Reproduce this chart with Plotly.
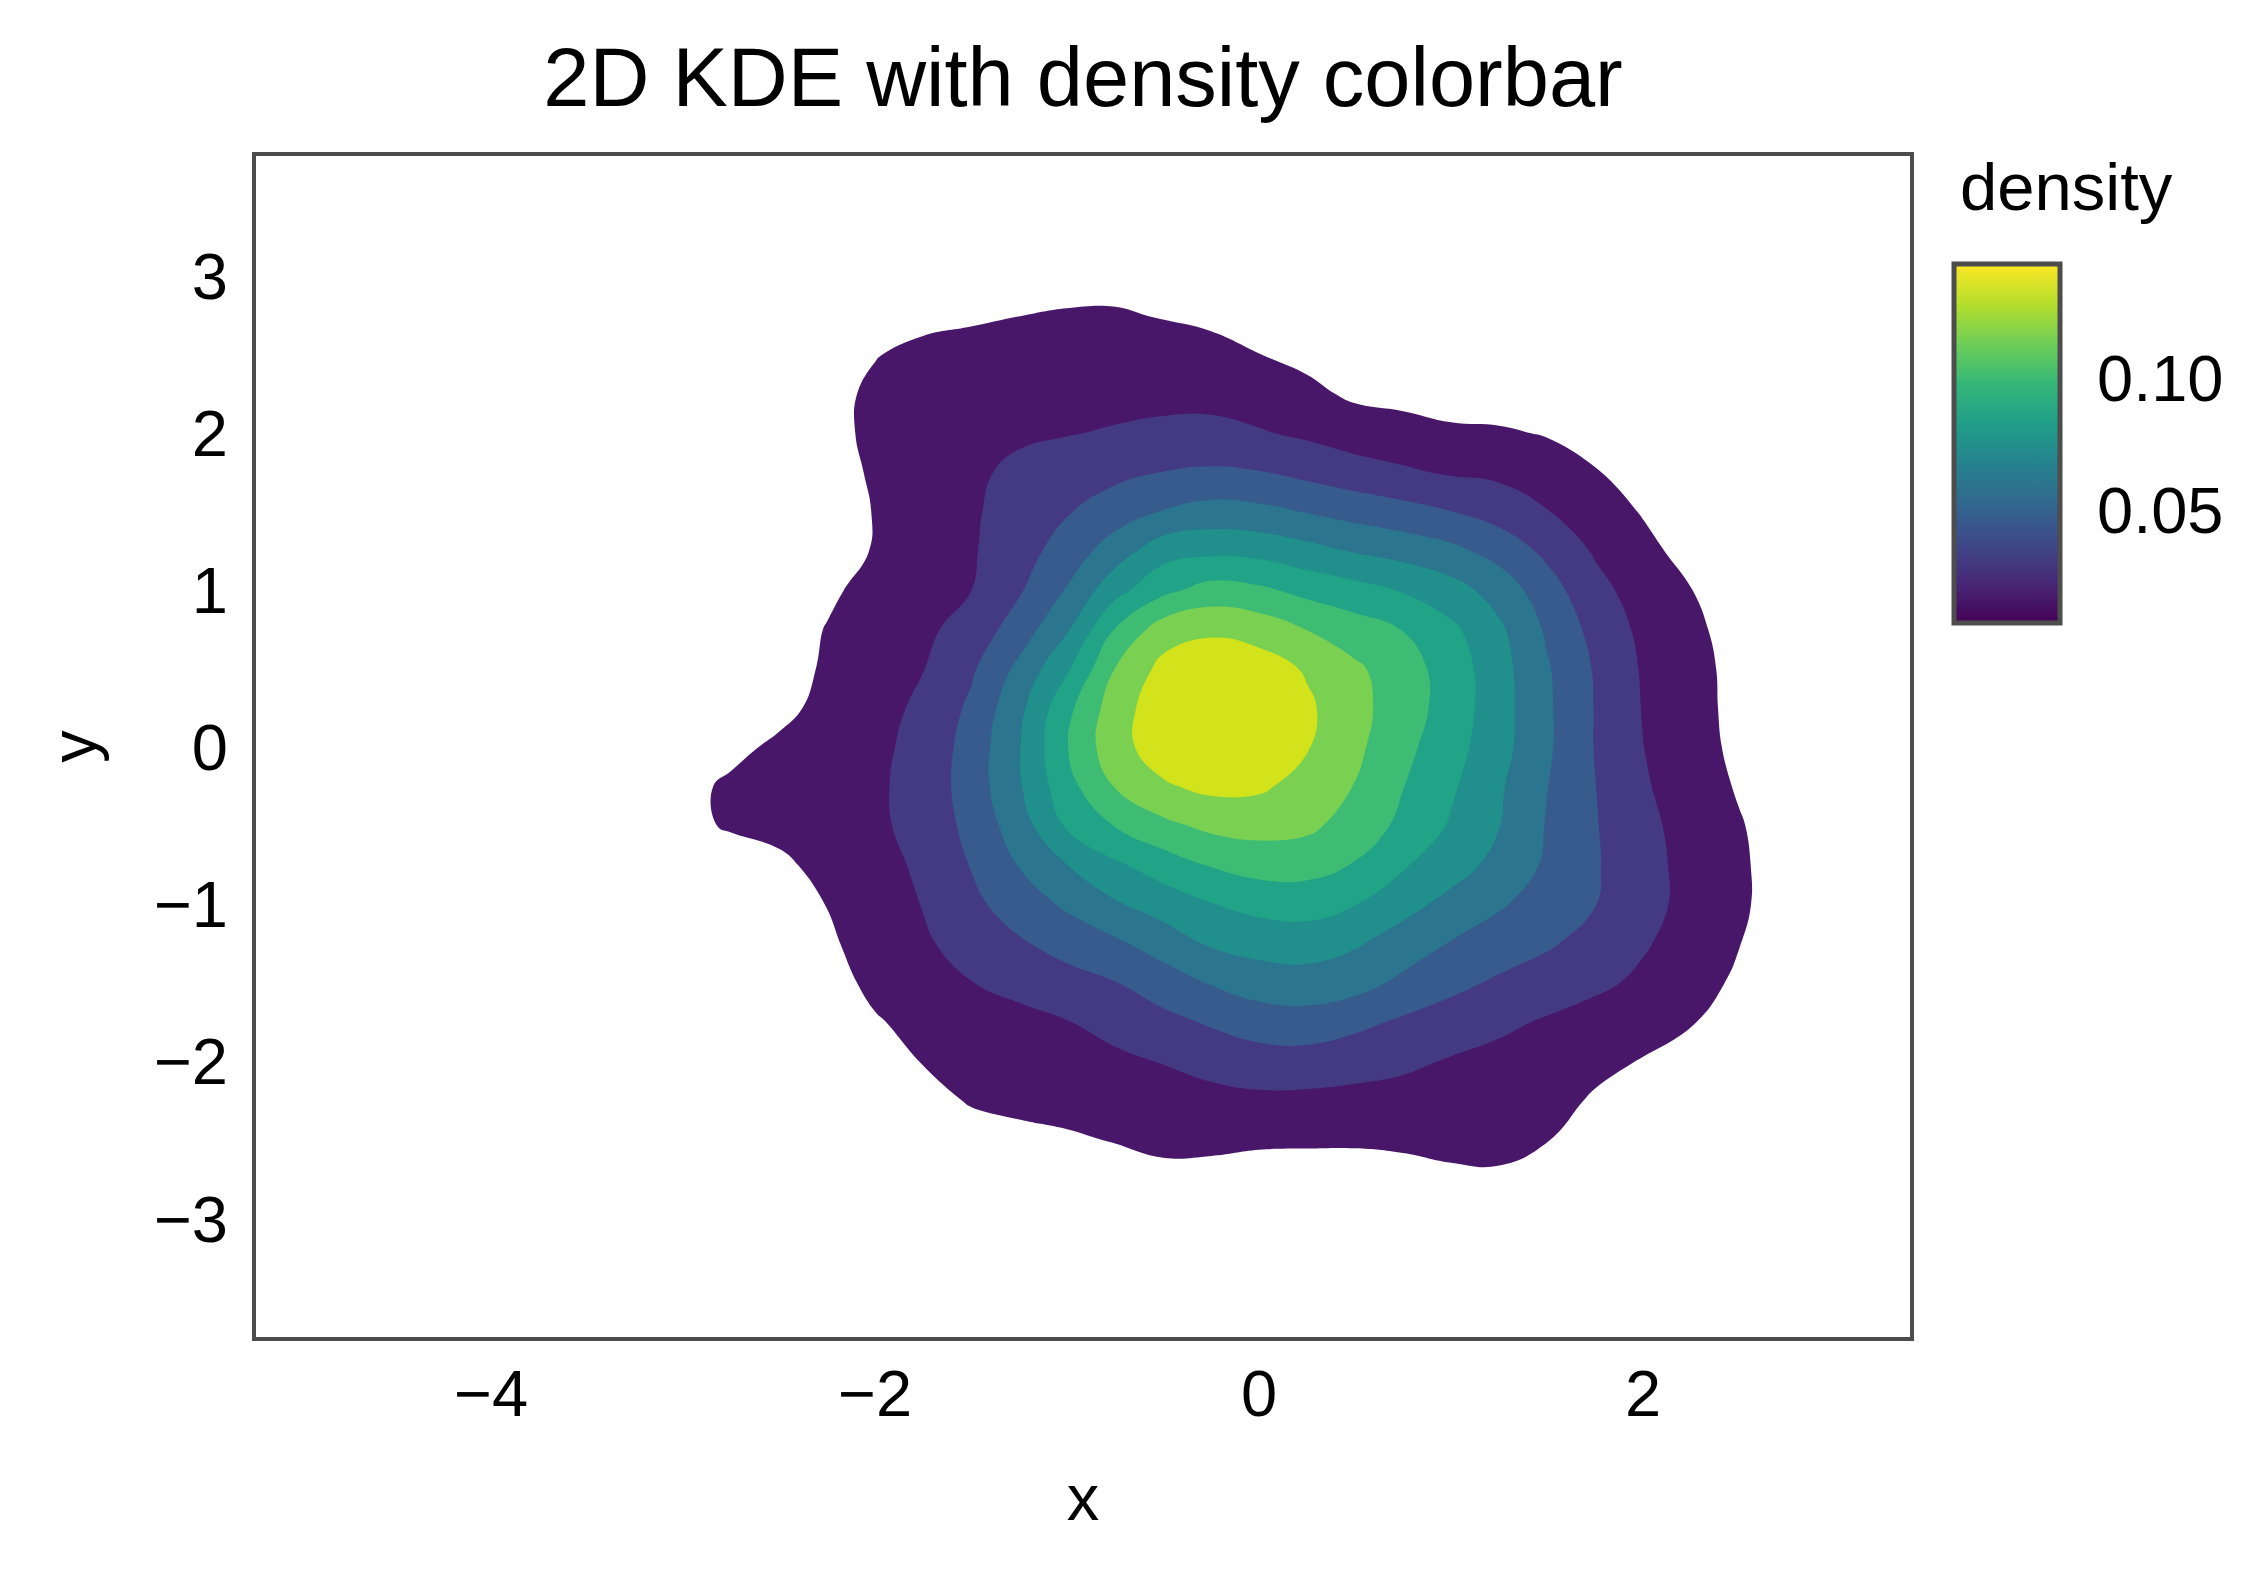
import plotly.graph_objects as go

FONT = "Liberation Sans, Arial, Helvetica, sans-serif"

# ---------------- data ----------------
# KDE evaluation grid
x_grid = [-3.0, -2.75, -2.5, -2.25, -2.0, -1.75, -1.5, -1.25, -1.0, -0.75, -0.5, -0.25,
          0.0, 0.25, 0.5, 0.75, 1.0, 1.25, 1.5, 1.75, 2.0, 2.25, 2.5, 2.75]
y_grid = [-2.75, -2.5, -2.25, -2.0, -1.75, -1.5, -1.25, -1.0, -0.75, -0.5, -0.25, 0.0,
          0.25, 0.5, 0.75, 1.0, 1.25, 1.5, 1.75, 2.0, 2.25, 2.5, 2.75, 3.0]

# estimated density on the grid, in units of 1e-3 (rows: y ascending, cols: x ascending)
density_milli = [
    [0, 0, 0, 0, 0, 0, 0, 0, 0.8, 1.8, 4.1, 3.0, 0.3, 0, 0.5, 2.7, 5.1, 5.9, 3.0, 0, 0, 0, 0, 0],
    [0, 0, 0, 0, 0, 0, 3.0, 4.8, 6.0, 8.0, 10.2, 10.5, 9.8, 9.5, 9.3, 9.8, 10.7, 10.4, 7.8, 1.5, 0, 0, 0, 0],
    [0, 0, 0, 0, 0, 3.8, 8.3, 9.9, 11.3, 13.2, 16.4, 18.0, 19.2, 18.8, 18.0, 16.8, 16.1, 14.9, 12.0, 6.0, 1.5, 0, 0, 0],
    [0, 0, 0, 0.8, 4.5, 7.8, 11.7, 14.4, 16.8, 19.5, 23.0, 27.2, 30.8, 30.9, 28.2, 25.4, 21.2, 18.3, 15.0, 10.7, 6.8, 3.0, 0, 0],
    [0, 0, 0, 2.7, 6.6, 10.4, 14.3, 18.0, 21.9, 27.3, 33.2, 39.0, 44.7, 46.1, 41.1, 35.1, 30.3, 25.4, 20.9, 16.5, 12.3, 8.0, 3.8, 0],
    [0, 0, 0, 3.6, 9.8, 15.9, 22.1, 27.0, 32.0, 36.9, 44.9, 53.3, 59.4, 60.9, 57.9, 49.1, 41.4, 35.1, 30.3, 25.4, 19.7, 12.5, 5.3, 0],
    [0, 0, 0, 5.4, 12.9, 20.4, 28.1, 35.7, 42.8, 49.7, 59.0, 69.0, 73.1, 74.3, 69.0, 60.5, 51.5, 45.3, 39.2, 32.0, 24.0, 15.9, 7.8, 0],
    [0, 0, 0.3, 7.8, 15.3, 23.0, 33.9, 44.4, 54.8, 65.7, 74.0, 81.8, 86.9, 88.4, 82.8, 72.3, 62.9, 54.0, 45.8, 37.8, 27.5, 18.0, 9.6, 1.1],
    [0, 1.5, 5.3, 10.8, 17.4, 25.1, 38.1, 53.1, 67.2, 80.0, 89.7, 98.3, 103.4, 103.1, 96.5, 84.0, 73.8, 62.9, 50.3, 38.9, 27.5, 17.9, 9.5, 1.2],
    [4.5, 8.7, 10.5, 15.0, 20.0, 27.0, 41.9, 60.0, 84.2, 97.8, 108.6, 115.8, 117.8, 115.5, 106.2, 93.9, 80.9, 67.8, 51.5, 38.4, 26.4, 16.8, 8.6, 0.2],
    [4.5, 9.3, 12.3, 16.2, 20.1, 28.1, 44.1, 65.7, 92.3, 113.0, 125.6, 131.0, 129.8, 122.0, 111.9, 97.8, 84.6, 69.5, 52.8, 37.8, 24.2, 14.9, 6.2, 0],
    [0, 4.8, 9.6, 14.4, 19.2, 27.2, 43.4, 66.5, 96.9, 122.4, 134.6, 139.5, 137.4, 128.4, 115.7, 101.6, 88.2, 72.9, 54.8, 36.9, 22.7, 13.4, 4.2, 0],
    [0, 0, 4.4, 10.8, 17.4, 25.4, 40.2, 63.5, 93.5, 120.5, 136.5, 141.5, 139.4, 130.1, 117.2, 104.7, 91.1, 73.5, 54.8, 36.9, 21.8, 12.6, 3.5, 0],
    [0, 0, 2.6, 9.0, 15.5, 22.1, 35.3, 56.1, 80.4, 112.8, 131.9, 137.0, 134.7, 125.9, 115.1, 104.1, 90.8, 73.2, 54.0, 36.2, 21.0, 12.2, 3.2, 0],
    [0, 0, 2.3, 8.0, 13.7, 19.4, 28.4, 44.6, 65.9, 98.3, 120.3, 125.1, 121.4, 112.2, 104.7, 97.1, 85.7, 70.2, 50.4, 32.7, 19.1, 10.5, 2.1, 0],
    [0, 0, 0, 5.6, 11.1, 16.7, 22.4, 35.9, 53.7, 77.3, 93.8, 103.5, 100.4, 93.3, 87.8, 81.5, 73.5, 61.4, 44.0, 27.0, 16.2, 7.8, 0, 0],
    [0, 0, 0, 2.0, 8.3, 14.6, 21.0, 31.4, 44.0, 60.0, 76.5, 79.2, 77.9, 72.5, 66.3, 62.0, 56.3, 47.0, 34.2, 21.0, 11.7, 2.3, 0, 0],
    [0, 0, 0, 1.7, 8.0, 14.4, 20.7, 28.4, 36.5, 45.0, 53.3, 58.1, 56.4, 51.9, 47.1, 42.8, 37.8, 31.2, 23.1, 14.9, 6.5, 0, 0, 0],
    [0, 0, 0, 3.0, 8.9, 14.6, 20.3, 25.1, 29.4, 33.9, 37.8, 39.6, 38.3, 33.5, 28.7, 24.6, 21.0, 19.5, 14.7, 8.6, 1.2, 0, 0, 0],
    [0, 0, 0, 4.5, 9.6, 14.4, 18.3, 20.7, 21.9, 23.7, 25.8, 26.6, 23.7, 20.0, 15.5, 13.4, 10.4, 9.3, 6.6, 0, 0, 0, 0, 0],
    [0, 0, 0, 4.5, 9.3, 13.2, 15.0, 16.2, 17.4, 18.2, 18.3, 17.9, 15.3, 11.1, 5.0, 2.9, 0, 0, 0, 0, 0, 0, 0, 0],
    [0, 0, 0, 2.3, 7.1, 9.8, 10.8, 11.7, 12.9, 13.4, 12.6, 11.1, 7.7, 3.8, 0.8, 0, 0, 0, 0, 0, 0, 0, 0, 0],
    [0, 0, 0, 0, 2.4, 5.0, 6.2, 7.4, 8.4, 8.6, 6.9, 5.1, 2.6, 0.8, 0, 0, 0, 0, 0, 0, 0, 0, 0, 0],
    [0, 0, 0, 0, 0, 0, 1.2, 2.6, 3.5, 3.6, 2.0, 0.3, 0, 0, 0, 0, 0, 0, 0, 0, 0, 0, 0, 0],
]

# contour levels and colour-bar range
level_start = 0.0075
level_step = 0.015
n_levels = 10
colorbar_min = 0.0075
colorbar_max = 0.143

x_ticks = [-4, -2, 0, 2]
y_ticks = [-3, -2, -1, 0, 1, 2, 3]
cbar_ticks = [0.05, 0.10]
cbar_ticktext = ["0.05", "0.10"]

# ---------------- styling ----------------
band_colors = ["#481769", "#443a83", "#375b8d", "#2b758e", "#21908d",
               "#20a386", "#3fbc73", "#7ad151", "#d2e21b"]

density = [[v / 1000.0 for v in row] for row in density_milli]
level_end = level_start + level_step * (n_levels - 1)

# stepped colourscale: region below the lowest level is transparent,
# each filled band gets its own viridis colour
clear = "rgba(255,255,255,0)"
colorscale = [[0.0, clear], [0.05, clear]]
for i, c in enumerate(band_colors):
    lo = round(0.05 + 0.1 * i, 4)
    hi = round(lo + 0.1, 4)
    colorscale += [[lo, c], [hi, c]]
colorscale += [[1.0, band_colors[-1]]]

# the page body adds an 8px margin, so the figure is sized to fit the window
W, H = 2259, 1573
L, R, T, B = 248, 1902, 148, 1329  # plot-area pixel box (figure coords)
PW, PH = R - L, B - T

fig = go.Figure()

fig.add_trace(go.Contour(
    x=x_grid, y=y_grid, z=density,
    autocontour=False,
    contours=dict(coloring="fill", start=level_start, end=level_end,
                  size=level_step, showlines=False),
    line=dict(width=0, smoothing=1.3),
    colorscale=colorscale,
    showscale=False,
    hoverinfo="skip",
))

# continuous density colour bar
fig.add_trace(go.Scatter(
    x=[None], y=[None], mode="markers", showlegend=False, hoverinfo="skip",
    marker=dict(
        color=[colorbar_min], cmin=colorbar_min, cmax=colorbar_max,
        colorscale="Viridis", showscale=True,
        colorbar=dict(
            x=(1946 - L) / PW, xanchor="left",
            y=(B - 256) / PH, yanchor="top",
            lenmode="fraction", len=359 / PH,
            thicknessmode="pixels", thickness=106,
            xpad=0, ypad=0,
            outlinewidth=5, outlinecolor="#4d4d4d",
            tickvals=cbar_ticks, ticktext=cbar_ticktext,
            ticks="outside", ticklen=22, tickcolor="rgba(0,0,0,0)",
            tickfont=dict(family=FONT, size=65, color="black"),
        ),
    ),
))

axis_common = dict(
    showgrid=False, zeroline=False,
    showline=True, mirror=True, linecolor="#4d4d4d", linewidth=4,
    tickfont=dict(family=FONT, size=65, color="black"),
)

fig.update_layout(
    width=W, height=H, autosize=False,
    margin=dict(l=L, r=W - R, t=T, b=H - B, pad=0),
    paper_bgcolor="white", plot_bgcolor="white",
    font=dict(family=FONT, color="black"),
    title=dict(text="2D KDE with density colorbar", x=0.5, xref="paper",
               xanchor="center", y=1 - 69 / H, yref="container", yanchor="middle",
               font=dict(family=FONT, size=83, color="black")),
    xaxis=dict(range=[-5.224, 3.39], tickvals=x_ticks,
               ticks="", ticklabelstandoff=-3,
               title=dict(text="x", standoff=46,
                          font=dict(family=FONT, size=65, color="black")),
               **axis_common),
    yaxis=dict(range=[-3.752, 3.765], tickvals=y_ticks,
               ticks="outside", ticklen=11, tickcolor="rgba(0,0,0,0)",
               title=dict(text="y", standoff=37,
                          font=dict(family=FONT, size=65, color="black")),
               **axis_common),
    annotations=[dict(text="density", xref="paper", yref="paper",
                      x=(1950 - L) / PW, y=(B - 178) / PH,
                      xanchor="left", yanchor="middle", showarrow=False,
                      font=dict(family=FONT, size=67, color="black"))],
)

fig.write_html("out.html")
